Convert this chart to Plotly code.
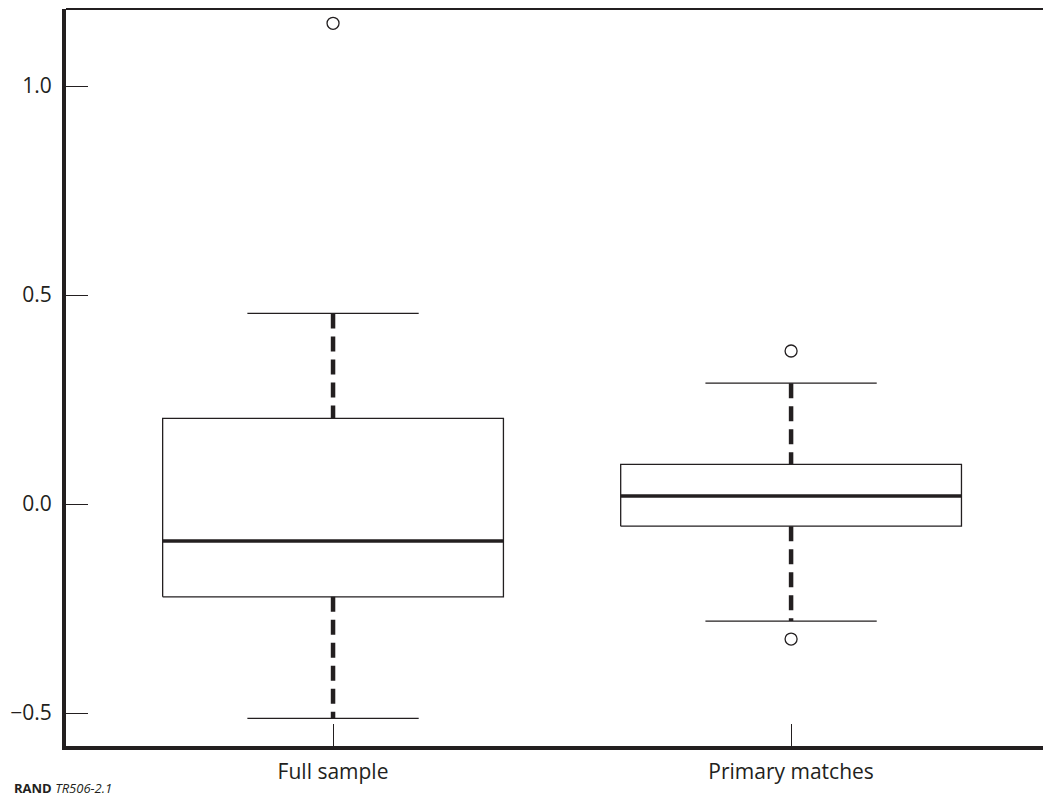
import plotly.graph_objects as go

# ---- data ----
categories = ["Full sample", "Primary matches"]
lower_whisker = [-0.513, -0.280]
q1 = [-0.222, -0.053]
median = [-0.0885, 0.019]
q3 = [0.205, 0.095]
upper_whisker = [0.456, 0.289]
outliers = [[1.150], [0.366, -0.323]]

y_ticks = [-0.5, 0.0, 0.5, 1.0]
y_tick_labels = ["\u22120.5", "0.0", "0.5", "1.0"]

INK = "#231f20"
BOX_HALF = 0.372
CAP_HALF = 0.187

fig = go.Figure()

for i, cat in enumerate(categories):
    x = i
    # whiskers (dashed, thick)
    fig.add_trace(go.Scatter(x=[x, x], y=[upper_whisker[i], q3[i]], mode="lines",
                             line=dict(color=INK, width=4.5, dash="15px,8px"),
                             hoverinfo="skip", showlegend=False))
    fig.add_trace(go.Scatter(x=[x, x], y=[q1[i], lower_whisker[i]], mode="lines",
                             line=dict(color=INK, width=4.5, dash="15px,8px"),
                             hoverinfo="skip", showlegend=False))
    # caps
    for v in (upper_whisker[i], lower_whisker[i]):
        fig.add_trace(go.Scatter(x=[x - CAP_HALF, x + CAP_HALF], y=[v, v], mode="lines",
                                 line=dict(color=INK, width=1.3),
                                 hoverinfo="skip", showlegend=False))
    # box
    fig.add_trace(go.Scatter(x=[x - BOX_HALF, x + BOX_HALF, x + BOX_HALF, x - BOX_HALF, x - BOX_HALF],
                             y=[q1[i], q1[i], q3[i], q3[i], q1[i]], mode="lines",
                             line=dict(color=INK, width=1.3),
                             hoverinfo="skip", showlegend=False))
    # median
    fig.add_trace(go.Scatter(x=[x - BOX_HALF, x + BOX_HALF], y=[median[i], median[i]], mode="lines",
                             line=dict(color=INK, width=3.5),
                             hoverinfo="skip", showlegend=False))
    # outliers
    fig.add_trace(go.Scatter(x=[x] * len(outliers[i]), y=outliers[i], mode="markers",
                             marker=dict(symbol="circle-open", size=12, color=INK, line=dict(width=1.3)),
                             hoverinfo="skip", showlegend=False))

FONT = "Open Sans"

fig.update_layout(
    width=1043, height=798,
    margin=dict(l=66, r=0, t=9, b=52),
    paper_bgcolor="white", plot_bgcolor="white",
    font=dict(family=FONT, color=INK, size=20),
    xaxis=dict(range=[-0.583, 1.550], tickvals=[0, 1], ticktext=categories,
               ticks="inside", ticklen=22, tickwidth=1.3, tickcolor=INK,
               showline=True, linewidth=4, linecolor=INK, mirror=False,
               showgrid=False, zeroline=False, tickfont=dict(size=21),
               ticklabelstandoff=4),
    yaxis=dict(range=[-0.5789, 1.1842], tickvals=y_ticks, ticktext=y_tick_labels,
               ticks="inside", ticklen=22, tickwidth=1.3, tickcolor=INK,
               showline=True, linewidth=4, linecolor=INK,
               showgrid=False, zeroline=False, tickfont=dict(size=21),
               ticklabelstandoff=6),
    shapes=[dict(type="line", xref="paper", yref="paper", x0=0, x1=1, y0=1, y1=1,
                 line=dict(color=INK, width=1.8))],
    annotations=[dict(text="<b>RAND</b> <i>TR506-2.1</i>", xref="paper", yref="paper",
                      x=0, y=0, xanchor="left", yanchor="middle", xshift=-54, yshift=-42,
                      showarrow=False, font=dict(size=13, color=INK))],
)

fig.write_html("out.html", config={"displayModeBar": False},
               post_script="document.body.style.margin='0';document.body.style.padding='0';")
